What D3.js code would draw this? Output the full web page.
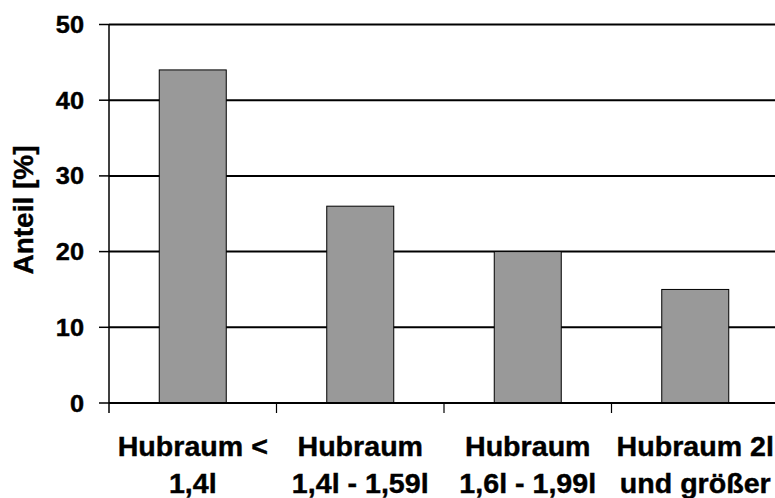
<!DOCTYPE html>
<html>
<head>
<meta charset="utf-8">
<script src="https://cdn.jsdelivr.net/npm/d3@7"></script>
<style>
  body { margin: 0; background: #fff; }
  text { font-family: "Liberation Sans", Arial, sans-serif; font-weight: bold; fill: #000; stroke: #000; stroke-width: 0.4px; }
</style>
</head>
<body>
<div id="chart"></div>
<script>
// data
const categories = ["Hubraum < 1,4l", "Hubraum 1,4l - 1,59l", "Hubraum 1,6l - 1,99l", "Hubraum 2l und größer"];
const labelLines = [
  ["Hubraum <", "1,4l"],
  ["Hubraum", "1,4l - 1,59l"],
  ["Hubraum", "1,6l - 1,99l"],
  ["Hubraum 2l", "und größer"]
];
const values = [44, 26, 20, 15];
const yTicks = [0, 10, 20, 30, 40, 50];

const width = 775, height = 498;
const plotLeft = 109, plotRight = 779, plotTop = 24.5, plotBottom = 403;

const svg = d3.select("#chart").append("svg")
  .attr("width", width)
  .attr("height", height);

const x = d3.scaleBand().domain(categories).range([plotLeft, plotRight]).padding(0);
const y = d3.scaleLinear().domain([0, 50]).range([plotBottom, plotTop]);

// gridlines
svg.append("g")
  .selectAll("line")
  .data(yTicks.filter(d => d > 0))
  .enter()
  .append("line")
  .attr("x1", plotLeft)
  .attr("x2", plotRight)
  .attr("y1", d => y(d))
  .attr("y2", d => y(d))
  .attr("stroke", "#000")
  .attr("stroke-width", 2);

// bars
const bw = x.bandwidth() * 0.4;
svg.append("g")
  .selectAll("rect")
  .data(categories)
  .enter()
  .append("rect")
  .attr("x", d => x(d) + (x.bandwidth() - bw) / 2)
  .attr("y", (d, i) => y(values[i]))
  .attr("width", bw)
  .attr("height", (d, i) => y(0) - y(values[i]))
  .attr("fill", "#999999")
  .attr("stroke", "#000")
  .attr("stroke-width", 1);

// y axis
svg.append("line")
  .attr("x1", plotLeft).attr("x2", plotLeft)
  .attr("y1", plotTop).attr("y2", plotBottom + 10)
  .attr("stroke", "#000").attr("stroke-width", 1.5);

svg.append("g")
  .selectAll("line")
  .data(yTicks)
  .enter()
  .append("line")
  .attr("x1", plotLeft - 10).attr("x2", plotLeft)
  .attr("y1", d => y(d)).attr("y2", d => y(d))
  .attr("stroke", "#000").attr("stroke-width", 1.5);

svg.append("g")
  .selectAll("text")
  .data(yTicks)
  .enter()
  .append("text")
  .attr("transform", d => `translate(84, ${y(d) + 8.5}) scale(1.08, 1)`)
  .attr("text-anchor", "end")
  .attr("font-size", "23.5px")
  .text(d => d);

// x axis
svg.append("line")
  .attr("x1", plotLeft).attr("x2", plotRight)
  .attr("y1", plotBottom).attr("y2", plotBottom)
  .attr("stroke", "#000").attr("stroke-width", 2);

svg.append("g")
  .selectAll("line")
  .data(categories.slice(1))
  .enter()
  .append("line")
  .attr("x1", d => x(d)).attr("x2", d => x(d))
  .attr("y1", plotBottom).attr("y2", plotBottom + 10)
  .attr("stroke", "#000").attr("stroke-width", 1.2);

const lab = svg.append("g")
  .selectAll("g")
  .data(categories)
  .enter()
  .append("g")
  .attr("transform", d => `translate(${x(d) + x.bandwidth() / 2}, 0)`);

lab.each(function (d, i) {
  const g = d3.select(this);
  labelLines[i].forEach((line, j) => {
    g.append("text")
      .attr("transform", `translate(0, ${456 + j * 37}) scale(1.06, 1)`)
      .attr("text-anchor", "middle")
      .attr("font-size", "27px")
      .text(line);
  });
});

// y title
svg.append("text")
  .attr("transform", "translate(33, 210) rotate(-90)")
  .attr("text-anchor", "middle")
  .attr("font-size", "28px")
  .text("Anteil [%]");
</script>
</body>
</html>
